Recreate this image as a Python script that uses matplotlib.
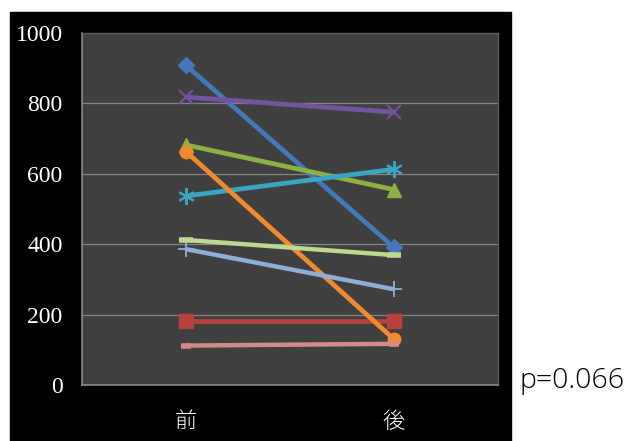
import matplotlib
matplotlib.use("Agg")
import matplotlib.pyplot as plt
from matplotlib.patches import Rectangle

categories = ["前", "後"]
blue = [908, 391]
red = [183, 183]
green = [682, 555]
purple = [818, 775]
aqua = [537, 613]
orange = [663, 130]
light_blue = [386, 272]
pink = [112, 117]
light_green = [412, 369]
p_text = "p=0.066"

# values, colour, marker, marker size, marker edge width, line width
series = [
    (blue, "#4478B8", "D", 8, 1.0, 3.4),
    (red, "#B8403D", "s", 10, 1.0, 3.4),
    (green, "#8DB042", "^", 10, 1.0, 3.4),
    (purple, "#7453A0", "x", 10, 1.5, 3.4),
    (aqua, "#3AA4C2", (6, 2, 0), 12, 1.5, 3.4),
    (orange, "#F08A30", "o", 9, 1.0, 3.4),
    (light_blue, "#8EADD8", "+", 11, 1.3, 3.2),
    (pink, "#D48A88", "_", 7, 4.0, 3.2),
    (light_green, "#BED98F", "_", 10, 4.0, 3.2),
]

fig = plt.figure(figsize=(6.28, 4.41), dpi=100)
fig.patches.append(Rectangle((10 / 628, 0), 501 / 628, 429 / 441,
                             transform=fig.transFigure, color="black", zorder=-5))

ax = fig.add_axes([82 / 628, 1 - 385 / 441, 416 / 628, 352 / 441])
ax.set_zorder(2)
ax.set_facecolor("#404040")

x = range(len(categories))
for vals, col, mk, ms, mew, lw in series:
    ax.plot(x, vals, color=col, linewidth=lw, marker=mk, markersize=ms,
            markeredgecolor=col, markerfacecolor=col, markeredgewidth=mew,
            solid_capstyle="butt", zorder=3)

ax.set_xlim(-0.5, 1.5)
ax.set_ylim(0, 1000)
ax.set_yticks([0, 200, 400, 600, 800, 1000])
ax.set_xticks(list(x))
ax.set_xticklabels(categories, family=["Noto Sans CJK JP"], fontweight="light",
                   fontsize=16, color="white")
for lab in ax.get_yticklabels():
    lab.set_family("Liberation Serif")
    lab.set_fontsize(17)
    lab.set_color("white")
ax.tick_params(axis="y", length=0, pad=14)
ax.tick_params(axis="x", length=0, pad=19)
ax.grid(axis="y", color="#858585", linewidth=0.9)
ax.set_axisbelow(True)
for side in ["left", "bottom"]:
    ax.spines[side].set_color("#8a8a8a")
    ax.spines[side].set_linewidth(1.2)
for side in ["top", "right"]:
    ax.spines[side].set_color("#5a5a5a")
    ax.spines[side].set_linewidth(1.0)

fig.text(519 / 628, 1 - 388 / 441, p_text, family="Open Sans", fontweight="light",
         fontsize=20.5, color="black", ha="left", va="baseline")

fig.savefig("out.png", dpi=100)
